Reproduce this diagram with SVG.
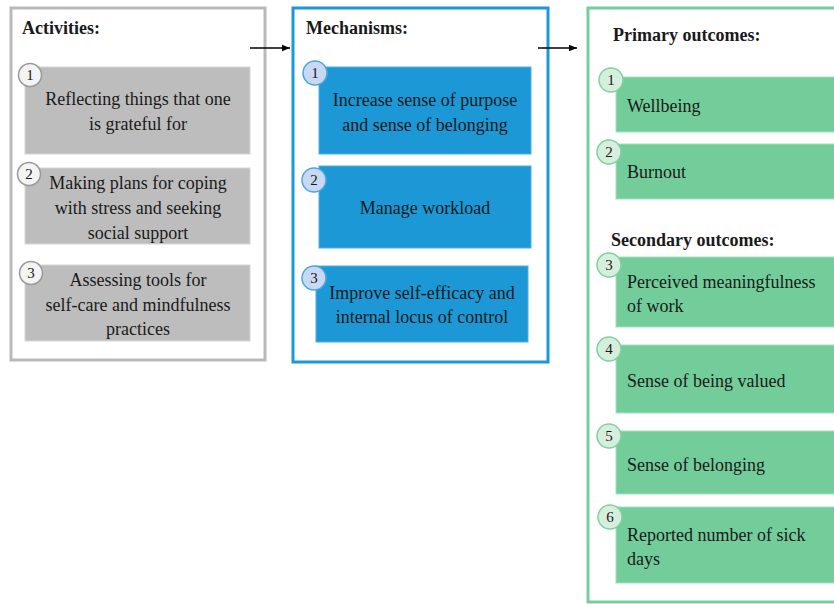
<svg xmlns="http://www.w3.org/2000/svg" width="834" height="604" viewBox="0 0 834 604">
<style>
text{font-family:"Liberation Serif","Times New Roman",serif;font-size:18px;fill:#1a1a1a}
.t{font-weight:bold}
.c{text-anchor:middle}
.n{font-size:15px;text-anchor:middle}
.frA{fill:#fff;stroke:#b9b9b9;stroke-width:3}
.frM{fill:#fff;stroke:#1b98d8;stroke-width:3}
.frO{fill:#fff;stroke:#74cf9c;stroke-width:3}
.bA{fill:#bdbdbd;stroke:#d6d6d6;stroke-width:1}
.bM{fill:#1b98d5;stroke:#4fb0e0;stroke-width:1}
.bO{fill:#72cd9a;stroke:#a5e0bf;stroke-width:1}
.cA{fill:#f4f4f4;stroke:#9a9a9a;stroke-width:1.5}
.cM{fill:#c9d8f3;stroke:#4aa8e0;stroke-width:1.5}
.cO{fill:#d6efdd;stroke:#7fd0a2;stroke-width:1.5}
.ln{stroke:#000;stroke-width:1.3;fill:none}
</style>
<defs>
<marker id="ah" viewBox="0 0 10 10" refX="10" refY="5" markerWidth="8" markerHeight="8" markerUnits="userSpaceOnUse" orient="auto">
<path d="M0,1 L10,5 L0,9 z" fill="#000"/>
</marker>
</defs>

<g id="activities">
<rect class="frA" x="11" y="8" width="254" height="352"/>
<text class="t" x="22" y="34">Activities:</text>
</g>
<g id="act1">
<rect class="bA" x="25" y="67" width="225" height="87"/>
<circle class="cA" cx="30" cy="75" r="11.5"/>
<text class="n" x="30" y="80">1</text>
<text class="c" x="138" y="105">Reflecting things that one</text>
<text class="c" x="138" y="130">is grateful for</text>
</g>
<g id="act2">
<rect class="bA" x="25" y="168" width="225" height="76"/>
<circle class="cA" cx="29" cy="174" r="11.5"/>
<text class="n" x="29" y="179">2</text>
<text class="c" x="138" y="189">Making plans for coping</text>
<text class="c" x="138" y="214">with stress and seeking</text>
<text class="c" x="138" y="239">social support</text>
</g>
<g id="act3">
<rect class="bA" x="25" y="265" width="225" height="76"/>
<circle class="cA" cx="31" cy="273" r="11.5"/>
<text class="n" x="31" y="278">3</text>
<text class="c" x="138" y="286">Assessing tools for</text>
<text class="c" x="138" y="311">self-care and mindfulness</text>
<text class="c" x="138" y="335">practices</text>
</g>

<g id="mechanisms">
<rect class="frM" x="293" y="8" width="255" height="354"/>
<text class="t" x="306" y="34">Mechanisms:</text>
</g>
<g id="mech1">
<rect class="bM" x="319" y="67" width="212" height="87"/>
<circle class="cM" cx="315" cy="73" r="12"/>
<text class="n" x="315" y="78">1</text>
<text class="c" x="425" y="106">Increase sense of purpose</text>
<text class="c" x="425" y="131">and sense of belonging</text>
</g>
<g id="mech2">
<rect class="bM" x="319" y="166" width="212" height="82"/>
<circle class="cM" cx="314" cy="180" r="12"/>
<text class="n" x="314" y="185">2</text>
<text class="c" x="425" y="214">Manage workload</text>
</g>
<g id="mech3">
<rect class="bM" x="316" y="266" width="212" height="76"/>
<circle class="cM" cx="314" cy="278" r="12"/>
<text class="n" x="314" y="283">3</text>
<text class="c" x="422" y="299">Improve self-efficacy and</text>
<text class="c" x="422" y="323">internal locus of control</text>
</g>

<g id="outcomes">
<rect class="frO" x="588" y="8" width="300" height="594"/>
<text class="t" x="613" y="41">Primary outcomes:</text>
<text class="t" x="611" y="246">Secondary outcomes:</text>
</g>
<g id="out1">
<rect class="bO" x="616" y="77" width="230" height="55"/>
<circle class="cO" cx="611" cy="80" r="12"/>
<text class="n" x="611" y="85">1</text>
<text x="627" y="112">Wellbeing</text>
</g>
<g id="out2">
<rect class="bO" x="616" y="144" width="230" height="55"/>
<circle class="cO" cx="609" cy="152" r="12"/>
<text class="n" x="609" y="157">2</text>
<text x="627" y="178">Burnout</text>
</g>
<g id="out3">
<rect class="bO" x="616" y="257" width="230" height="70"/>
<circle class="cO" cx="609" cy="265" r="12"/>
<text class="n" x="609" y="270">3</text>
<text x="627" y="288">Perceived meaningfulness</text>
<text x="627" y="312">of work</text>
</g>
<g id="out4">
<rect class="bO" x="616" y="345" width="230" height="68"/>
<circle class="cO" cx="609" cy="349" r="12"/>
<text class="n" x="609" y="354">4</text>
<text x="627" y="387">Sense of being valued</text>
</g>
<g id="out5">
<rect class="bO" x="616" y="431" width="230" height="63"/>
<circle class="cO" cx="609" cy="436" r="12"/>
<text class="n" x="609" y="441">5</text>
<text x="627" y="471">Sense of belonging</text>
</g>
<g id="out6">
<rect class="bO" x="616" y="507" width="230" height="76"/>
<circle class="cO" cx="610" cy="517" r="12"/>
<text class="n" x="610" y="522">6</text>
<text x="627" y="541">Reported number of sick</text>
<text x="627" y="565">days</text>
</g>

<g id="connectors">
<line class="ln" x1="250" y1="48" x2="290" y2="48" marker-end="url(#ah)"/>
<line class="ln" x1="538" y1="48" x2="577" y2="48" marker-end="url(#ah)"/>
</g>
</svg>
